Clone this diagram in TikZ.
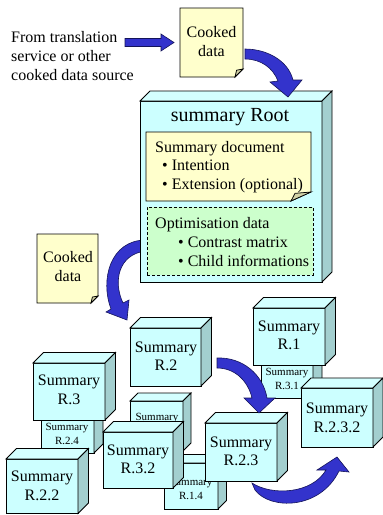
\documentclass[tikz,border=0pt]{standalone}
\usepackage{fontspec}
\setmainfont{Liberation Serif}

\definecolor{cubefront}{HTML}{CCFFFF}
\definecolor{cubetop}{HTML}{D4FFFF}
\definecolor{cubeside}{HTML}{A3CFCF}
\definecolor{notefill}{HTML}{FFFFCC}
\definecolor{notefold}{HTML}{D2D2A6}
\definecolor{optfill}{HTML}{CCFFCC}
\definecolor{arrowfill}{HTML}{3333CC}
\definecolor{arrowline}{HTML}{14145A}

\tikzset{
  edge/.style={draw=black, line width=0.75pt, line join=miter},
  frontface/.style={edge, fill=cubefront, inner sep=0pt, outer sep=0pt, anchor=north west},
  boxframe/.style={inner sep=0pt, outer sep=0pt, anchor=north west},
  cubetxt/.style={align=center, inner sep=0pt, font=\fontsize{16}{18.5}\selectfont},
  smalltxt/.style={align=center, inner sep=0pt, font=\fontsize{11}{13.5}\selectfont},
  bodytxt/.style={align=left, inner sep=0pt, anchor=base west, font=\fontsize{16}{19}\selectfont},
  blockarrow/.style={fill=arrowfill, draw=arrowline, line width=0.6pt, line join=miter},
}

% cube: name, x1, y1, x2, y2 (front face), depth
\newcommand\sumcube[6]{%
  \node[frontface, minimum width={(#4-#2)*1pt}, minimum height={(#5-#3)*1pt}] (#1) at (#2,#3) {};
  \filldraw[edge, fill=cubetop] (#1.north west) -- ++(#6,-#6) -- ++({#4-#2},0) -- (#1.north east) -- cycle;
  \filldraw[edge, fill=cubeside] (#1.north east) -- ++(#6,-#6) -- ++(0,{#5-#3}) -- (#1.south east) -- cycle;
}

% note with folded corner: name, x1, y1, x2, y2, fold width, fold height
\newcommand\notesheet[7]{%
  \node[boxframe, minimum width={(#4-#2)*1pt}, minimum height={(#5-#3)*1pt}] (#1) at (#2,#3) {};
  \filldraw[edge, fill=notefill] (#1.north west) -- (#1.north east) -- ([yshift=#7pt]#1.south east)
    -- ([xshift=-#6pt]#1.south east) -- (#1.south west) -- cycle;
  \filldraw[edge, fill=notefold] ([yshift=#7pt]#1.south east) -- ([xshift=-#6pt]#1.south east)
    -- ([xshift={-0.8*#6pt}, yshift={0.85*#7pt}]#1.south east) -- cycle;
}

\begin{document}
\begin{tikzpicture}[x=1pt, y=-1pt]
\useasboundingbox (0,0) rectangle (383,515);
\fill[white] (0,0) rectangle (383,515);

% incoming data (base anchor of a multi-line node sits on its last line)
\node[bodytxt, font=\fontsize{16}{19.3}\selectfont] (src) at (11,80.9) {From translation\\service or other\\cooked data source};
\filldraw[blockarrow] (125,38.5) -- (161,38.5) -- (161,34) -- (174,42.5) -- (161,51)
  -- (161,46.5) -- (125,46.5) -- cycle;

% cooked data arriving at the root
\notesheet{cooked1}{180}{8}{243}{77}{8}{8}
\node[cubetxt, anchor=base] (cooked1t) at (211.5,56) {Cooked\\data};

% arrow from the root down to the children (starts behind the root)
\filldraw[blockarrow] (146,240) .. controls (110,240) and (100,280) .. (111,309)
  -- (106,312) -- (127,320) -- (129,300) -- (123,303)
  .. controls (113,282) and (118,254) .. (146,251) -- cycle;

% root summary
\sumcube{root}{140}{101}{322}{282}{10}
\node[anchor=base, inner sep=0pt, font=\fontsize{20}{24}\selectfont] (roott) at (230,121.7) {summary Root};

\notesheet{sumdoc}{146}{132}{311}{201}{20}{9}
\node[bodytxt, font=\fontsize{16}{18.7}\selectfont] (sumdoct) at (155,189.4)
  {Summary document\\\hspace{7pt}\textbullet\ Intention\\\hspace{7pt}\textbullet\ Extension (optional)};

\node[boxframe, minimum width=166pt, minimum height=68pt, draw=black, line width=0.75pt,
  dash pattern=on 3pt off 2pt, fill=optfill] (optim) at (147,207) {};
\node[bodytxt] (optimt) at (155,266.5)
  {Optimisation data\\\hspace{23pt}\textbullet\ Contrast matrix\\\hspace{23pt}\textbullet\ Child informations};

\filldraw[blockarrow] (245,49) .. controls (266,49) and (288,60) .. (293,80)
  -- (302,80) -- (288,97) -- (270,82) -- (278,81)
  .. controls (273,68) and (261,59) .. (245,59) -- cycle;

% second cooked data sheet
\notesheet{cooked2}{37}{234}{98}{303}{7}{7}
\node[cubetxt, anchor=base] (cooked2t) at (68,281) {Cooked\\data};

% child summaries, back to front
\sumcube{r31}{261}{350}{313}{398}{9}
\node[smalltxt] (r31t) at (287,379) {Summary\\R.3.1};
\sumcube{r1}{253}{308}{325}{365}{10.5}
\node[cubetxt] (r1t) at (289,335.5) {Summary\\R.1};
\sumcube{r2}{130}{328}{201}{386}{10.5}
\node[cubetxt] (r2t) at (166,356.5) {Summary\\R.2};
\sumcube{r24}{41}{403}{94}{453}{9}
\node[smalltxt] (r24t) at (67,434) {Summary\\R.2.4};
\sumcube{r3}{33}{363}{105}{420}{10.5}
\node[cubetxt] (r3t) at (69,390) {Summary\\R.3};
\sumcube{rx}{130}{401}{183}{451}{8}
\node[smalltxt] (rxt) at (157,418.5) {Summary};
\sumcube{r14}{164}{463}{218}{509}{8.5}
\node[smalltxt] (r14t) at (191,489) {Summary\\R.1.4};
\sumcube{r22}{6}{459}{78}{513.5}{10.5}
\node[cubetxt] (r22t) at (42,486) {Summary\\R.2.2};
\sumcube{r32}{103}{432}{173}{488}{10.5}
\node[cubetxt] (r32t) at (138,459.5) {Summary\\R.3.2};
\sumcube{r23}{205}{423}{277}{481}{10.5}
\node[cubetxt] (r23t) at (241,451.5) {Summary\\R.2.3};
\sumcube{r232}{301}{388}{373}{447}{10}
\node[cubetxt] (r232t) at (337,418) {Summary\\R.2.3.2};

% moves between children
\filldraw[blockarrow] (217,358) .. controls (242,357) and (263,374) .. (267,398)
  -- (275,398) -- (259,413) -- (244,398) -- (252,398)
  .. controls (248,381) and (235,368) .. (217,368) -- cycle;
\filldraw[blockarrow] (255,490) .. controls (270,510) and (320,510) .. (339,471)
  -- (349,472) -- (337,457) -- (317,470) -- (326,470)
  .. controls (312,494) and (272,496) .. (252,483) -- cycle;
\end{tikzpicture}
\end{document}
